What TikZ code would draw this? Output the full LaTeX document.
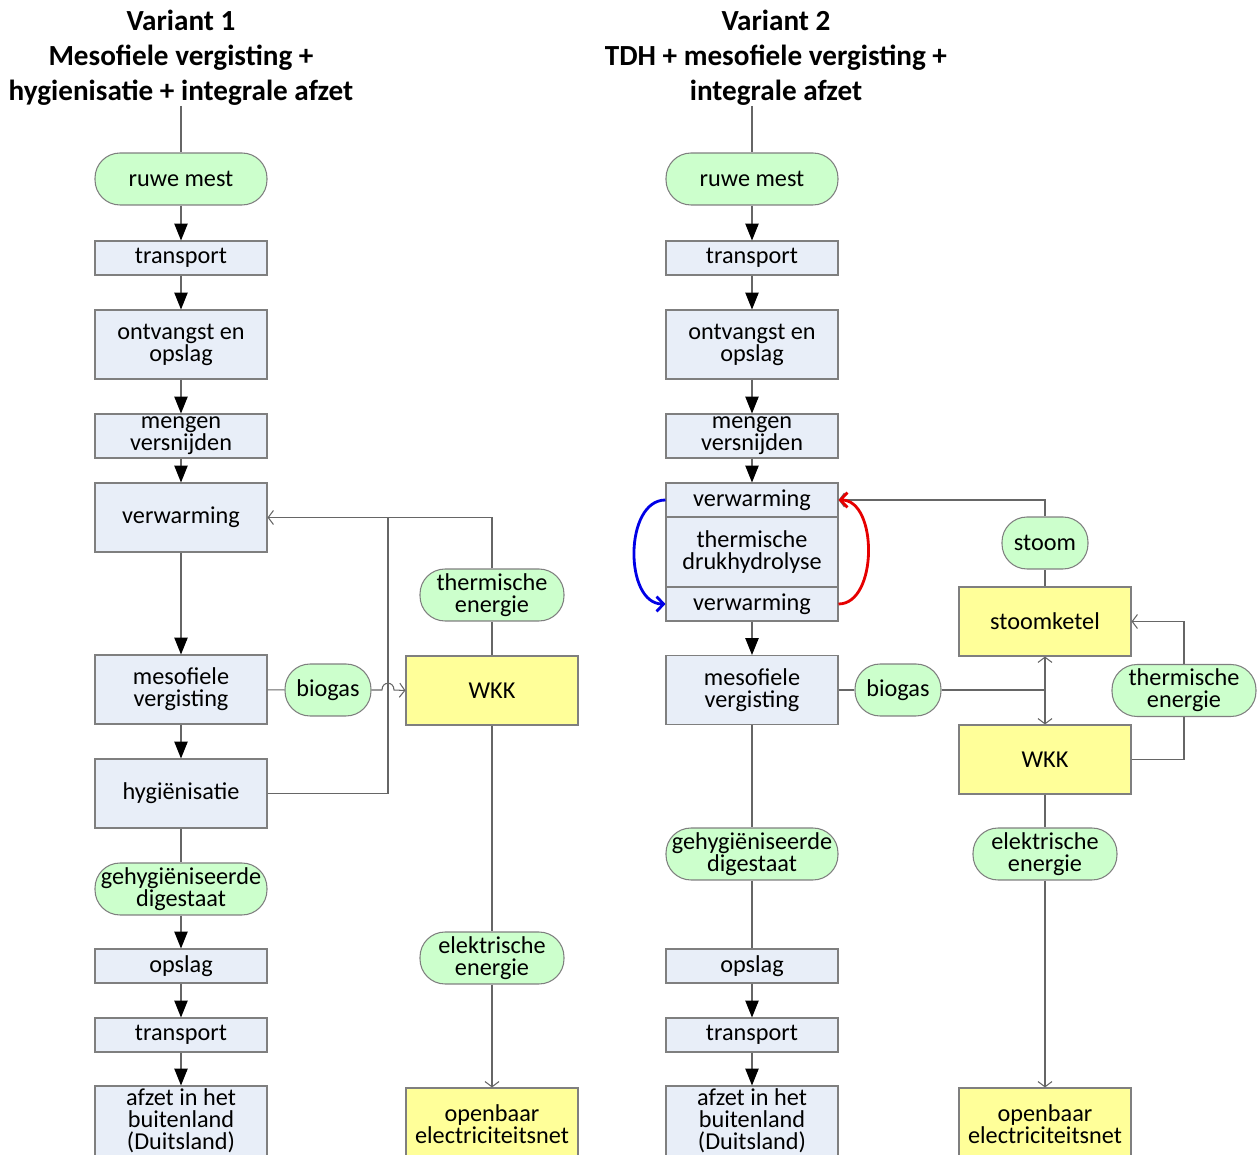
\documentclass[tikz,border=0pt]{standalone}
\usepackage{fontspec}
\setmainfont{Carlito}
\usepackage{tikz}
\usetikzlibrary{arrows.meta, calc}
\definecolor{procfill}{HTML}{E8EEF8}
\definecolor{pillfill}{HTML}{CCFFCC}
\definecolor{unitfill}{HTML}{FFFF99}
\definecolor{edgegray}{HTML}{7F7F7F}
\definecolor{linegray}{HTML}{666666}
\definecolor{heatblue}{HTML}{0000E6}
\definecolor{heatred}{HTML}{E60000}

\tikzset{
  boxtext/.style={font=\fontsize{13.8}{12.6}\selectfont, align=center, inner sep=0pt},
  procbox/.style={boxtext, draw=edgegray, fill=procfill, line width=0.6pt,
                  minimum width=3.44cm, minimum height=#1},
  procbox/.default=0.68cm,
  pill/.style={boxtext, draw=edgegray, fill=pillfill, line width=0.6pt,
               rounded corners=0.5cm, minimum width=#1, minimum height=1.04cm},
  pill/.default=3.44cm,
  unitbox/.style={boxtext, draw=edgegray, fill=unitfill, line width=0.6pt,
                  minimum width=3.44cm, minimum height=#1},
  unitbox/.default=1.38cm,
  title/.style={font=\fontsize{16.6}{19.8}\selectfont\bfseries, align=center, inner sep=0pt},
  link/.style={draw=linegray, line width=0.6pt},
  flow/.style={link, -{Triangle[length=9.6pt, width=7.6pt, color=black, fill=black]}},
  feed/.style={link, -{Straight Barb[length=3pt, width=8pt]}},
  feedboth/.style={link, {Straight Barb[length=3pt, width=8pt]}-{Straight Barb[length=3pt, width=8pt]}},
  heat/.style={line width=1.6pt, -{Straight Barb[length=4pt, width=8.5pt]}},
}

\begin{document}
\begin{tikzpicture}[x=0.02cm, y=-0.02cm]
  \useasboundingbox (0,0) rectangle (1259,1155);

  %% Variant 1: main line
  \node[title] (title1) at (181,58)
    {Variant 1\\Mesofiele vergisting +\\hygienisatie + integrale afzet};
  \node[pill] (ruwe1) at (181,179) {ruwe mest};
  \node[procbox] (trans1a) at (181,258) {transport};
  \node[procbox=1.38cm] (ontv1) at (181,344.5) {ontvangst en\\opslag};
  \node[procbox=0.88cm] (meng1) at (181,436) {mengen\\versnijden};
  \node[procbox=1.38cm] (verw1) at (181,517.5) {verwarming};
  \node[procbox=1.38cm] (meso1) at (181,689.5) {mesofiele\\vergisting};
  \node[procbox=1.38cm] (hyg1) at (181,793.5) {hygiënisatie};
  \node[pill] (dig1) at (181,889) {gehygiëniseerde\\digestaat};
  \node[procbox] (opsl1) at (181,966) {opslag};
  \node[procbox] (trans1b) at (181,1035) {transport};
  \node[procbox=1.4cm] (afzet1) at (181,1121) {afzet in het\\buitenland\\(Duitsland)};

  %% Variant 1: energy side
  \node[pill=1.72cm] (biogas1) at (328,690) {biogas};
  \node[pill=2.88cm] (therm1) at (492,595) {thermische\\energie};
  \node[unitbox] (wkk1) at (492,690.5) {WKK};
  \node[pill=2.88cm] (elek1) at (492,958) {elektrische\\energie};
  \node[unitbox=1.44cm] (net1) at (492,1124) {openbaar\\electriciteitsnet};
  \coordinate (jn1) at (388,518);

  \draw[link] (title1.south) -- (ruwe1.north);
  \draw[flow] (ruwe1) -- (trans1a);
  \draw[flow] (trans1a) -- (ontv1);
  \draw[flow] (ontv1) -- (meng1);
  \draw[flow] (meng1) -- (verw1);
  \draw[flow] (verw1) -- (meso1);
  \draw[flow] (meso1) -- (hyg1);
  \draw[link] (hyg1) -- (dig1);
  \draw[flow] (dig1) -- (opsl1);
  \draw[flow] (opsl1) -- (trans1b);
  \draw[flow] (trans1b) -- (afzet1);

  \draw[link] (wkk1) -- (therm1);
  \draw[feed] (therm1.north) |- (verw1.east);
  \draw[link] (hyg1.east) -| (jn1);
  \draw[link] (meso1) -- (biogas1);
  \draw[feed] (biogas1.east) -- (382,690) .. controls (382,681) and (394,681) .. (394,690)
    -- (wkk1.west);
  \draw[link] (wkk1) -- (elek1);
  \draw[feed] (elek1) -- (net1);

  %% Variant 2: main line
  \node[title] (title2) at (776,58)
    {Variant 2\\TDH + mesofiele vergisting +\\integrale afzet};
  \node[pill] (ruwe2) at (752,179) {ruwe mest};
  \node[procbox] (trans2a) at (752,258) {transport};
  \node[procbox=1.38cm] (ontv2) at (752,344.5) {ontvangst en\\opslag};
  \node[procbox=0.88cm] (meng2) at (752,436) {mengen\\versnijden};
  \node[procbox] (verwA) at (752,500) {verwarming};
  \node[procbox=1.4cm] (tdh) at (752,552) {thermische\\drukhydrolyse};
  \node[procbox] (verwB) at (752,604) {verwarming};
  \node[procbox=1.38cm] (meso2) at (752,690) {mesofiele\\vergisting};
  \node[pill] (dig2) at (752,854) {gehygiëniseerde\\digestaat};
  \node[procbox] (opsl2) at (752,966) {opslag};
  \node[procbox] (trans2b) at (752,1035) {transport};
  \node[procbox=1.4cm] (afzet2) at (752,1121) {afzet in het\\buitenland\\(Duitsland)};

  %% Variant 2: energy side
  \node[pill=1.72cm] (stoom) at (1045,543) {stoom};
  \node[unitbox] (ketel) at (1045,621.5) {stoomketel};
  \node[pill=1.72cm] (biogas2) at (898,690) {biogas};
  \node[pill=2.88cm] (therm2) at (1184,690.5) {thermische\\energie};
  \node[unitbox] (wkk2) at (1045,759.5) {WKK};
  \node[pill=2.88cm] (elek2) at (1045,854) {elektrische\\energie};
  \node[unitbox=1.44cm] (net2) at (1045,1124) {openbaar\\electriciteitsnet};
  \coordinate (jn2) at (1045,690);

  \draw[link] (title2.south -| ruwe2.north) -- (ruwe2.north);
  \draw[flow] (ruwe2) -- (trans2a);
  \draw[flow] (trans2a) -- (ontv2);
  \draw[flow] (ontv2) -- (meng2);
  \draw[flow] (meng2) -- (verwA);
  \draw[flow] (verwB) -- (meso2);
  \draw[link] (meso2) -- (dig2);
  \draw[link] (dig2) -- (opsl2);
  \draw[flow] (opsl2) -- (trans2b);
  \draw[flow] (trans2b) -- (afzet2);

  \draw[link] (ketel) -- (stoom);
  \draw[feed] (stoom.north) |- (verwA.east);
  \draw[link] (meso2) -- (biogas2);
  \draw[link] (biogas2) -- (jn2);
  \draw[feedboth] (ketel) -- (wkk2);
  \draw[link] (wkk2.east) -| (therm2.south);
  \draw[feed] (therm2.north) |- (ketel.east);
  \draw[link] (wkk2) -- (elek2);
  \draw[feed] (elek2) -- (net2);

  %% heating loop round the hydrolysis
  \draw[heat, heatblue] (verwA.west) .. controls (624,500) and (624,604) .. (verwB.west);
  \draw[heat, heatred] (verwB.east) .. controls (878,604) and (878,500) .. (verwA.east);
\end{tikzpicture}
\end{document}
